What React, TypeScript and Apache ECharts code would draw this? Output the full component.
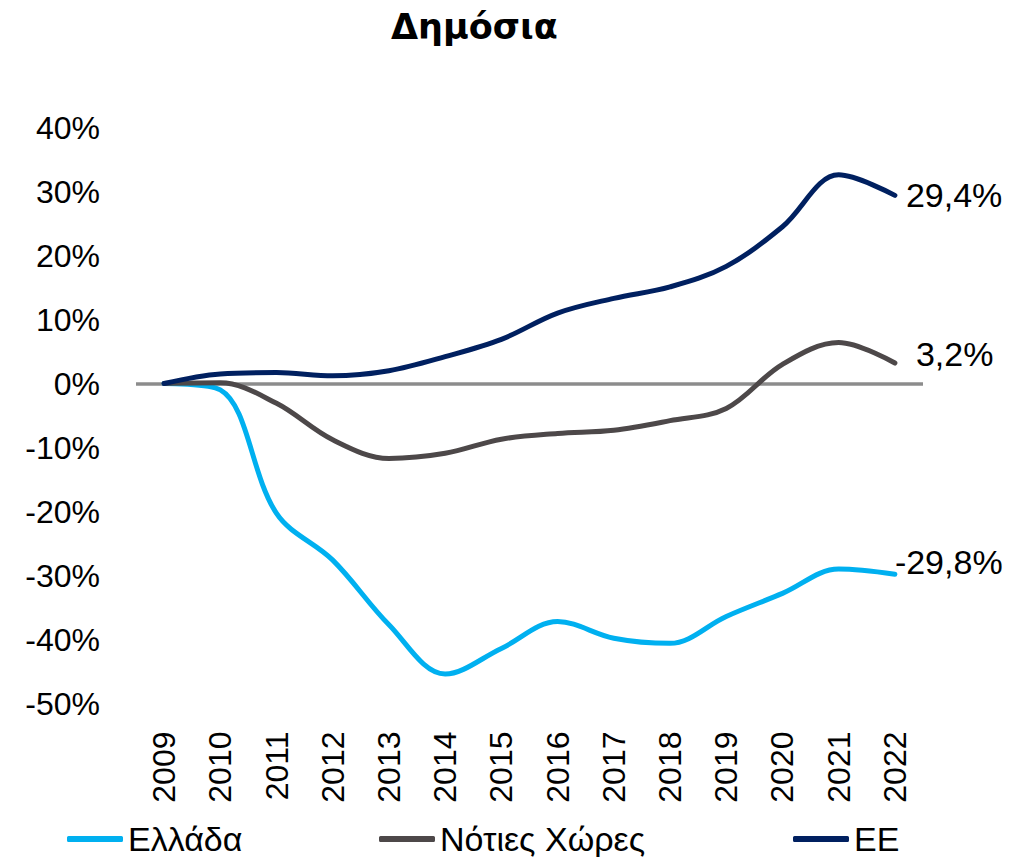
import React, { useEffect, useRef } from "react";
import * as echarts from "echarts";

const title = "Δημόσια";
const years = ["2009", "2010", "2011", "2012", "2013", "2014", "2015", "2016", "2017", "2018", "2019", "2020", "2021", "2022"];
const seriesNames = ["Ελλάδα", "Νότιες Χώρες", "ΕΕ"];
const greece = [0, -1.0, -20.3, -27.6, -37.7, -45.4, -41.4, -37.2, -39.8, -40.6, -36.4, -32.8, -29.0, -29.8];
const south = [0, 0.1, -3.1, -8.8, -11.7, -10.9, -8.7, -7.8, -7.3, -5.8, -3.9, 3.0, 6.4, 3.2];
const eu = [0, 1.5, 1.7, 1.2, 2.0, 4.2, 6.9, 11.0, 13.3, 15.1, 18.3, 24.5, 32.6, 29.4];
const yMin = -50;
const yMax = 40;
const yStep = 10;

const colors = ["#00B0F0", "#4D4849", "#002060"];
const FONT = "'Liberation Sans', Arial, sans-serif";

const fmtEnd = (p: any) => {
  const v = Array.isArray(p.value) ? p.value[1] : p.value;
  return Number(v).toFixed(1).replace(".", ",") + "%";
};

export default function App() {
  const ref = useRef<HTMLDivElement>(null);
  useEffect(() => {
    if (!ref.current) return;
    const chart = echarts.init(ref.current, undefined, { renderer: "svg" });
    const endLabelBase = { show: true, formatter: fmtEnd, fontSize: 34, color: "#000", fontFamily: FONT };
    const legendBase = {
      orient: "horizontal",
      top: 822,
      padding: 0,
      itemWidth: 56,
      itemHeight: 6,
      icon: "roundRect",
      itemGap: 5,
      textStyle: { fontSize: 34, color: "#000", fontFamily: FONT },
    };
    chart.setOption({
      animation: false,
      title: {
        text: title,
        left: 386,
        top: 4,
        textStyle: { fontSize: 35, fontWeight: "bold", color: "#000", fontFamily: "'DejaVu Sans', sans-serif" },
      },
      legend: [
        { ...legendBase, left: 67, data: [seriesNames[0]] },
        { ...legendBase, left: 379, data: [seriesNames[1]] },
        { ...legendBase, left: 793, data: [seriesNames[2]] },
      ],
      grid: { left: 136, right: 87, top: 127.5, bottom: 153.5, containLabel: false },
      xAxis: {
        type: "category",
        data: years,
        boundaryGap: true,
        axisLine: { show: false, onZero: false },
        axisTick: { show: false },
        axisLabel: { rotate: 90, interval: 0, margin: 28, fontSize: 32, color: "#000", fontFamily: FONT },
      },
      yAxis: {
        type: "value",
        min: yMin,
        max: yMax,
        interval: yStep,
        axisLine: { show: false },
        axisTick: { show: false },
        splitLine: { show: false },
        axisLabel: { formatter: (v: number) => `${v}%`, margin: 36, fontSize: 32, color: "#000", fontFamily: FONT },
      },
      series: [
        {
          name: seriesNames[0],
          type: "line",
          data: greece,
          smooth: 0.35,
          symbol: "none",
          lineStyle: { width: 5, color: colors[0], cap: "round" },
          itemStyle: { color: colors[0] },
          endLabel: { ...endLabelBase, distance: 0, offset: [0, -12] },
          markLine: {
            silent: true,
            symbol: "none",
            z: 1,
            label: { show: false },
            lineStyle: { color: "#8C8C8C", width: 3.5, type: "solid" },
            data: [{ yAxis: 0 }],
          },
        },
        {
          name: seriesNames[1],
          type: "line",
          data: south,
          smooth: 0.35,
          symbol: "none",
          lineStyle: { width: 5, color: colors[1], cap: "round" },
          itemStyle: { color: colors[1] },
          endLabel: { ...endLabelBase, distance: 21, offset: [0, -9] },
        },
        {
          name: seriesNames[2],
          type: "line",
          data: eu,
          smooth: 0.35,
          symbol: "none",
          lineStyle: { width: 5, color: colors[2], cap: "round" },
          itemStyle: { color: colors[2] },
          endLabel: { ...endLabelBase, distance: 11, offset: [0, 0] },
        },
      ],
    });
    return () => chart.dispose();
  }, []);
  return <div ref={ref} style={{ position: "absolute", left: 0, top: 0, width: 1010, height: 857 }} />;
}
